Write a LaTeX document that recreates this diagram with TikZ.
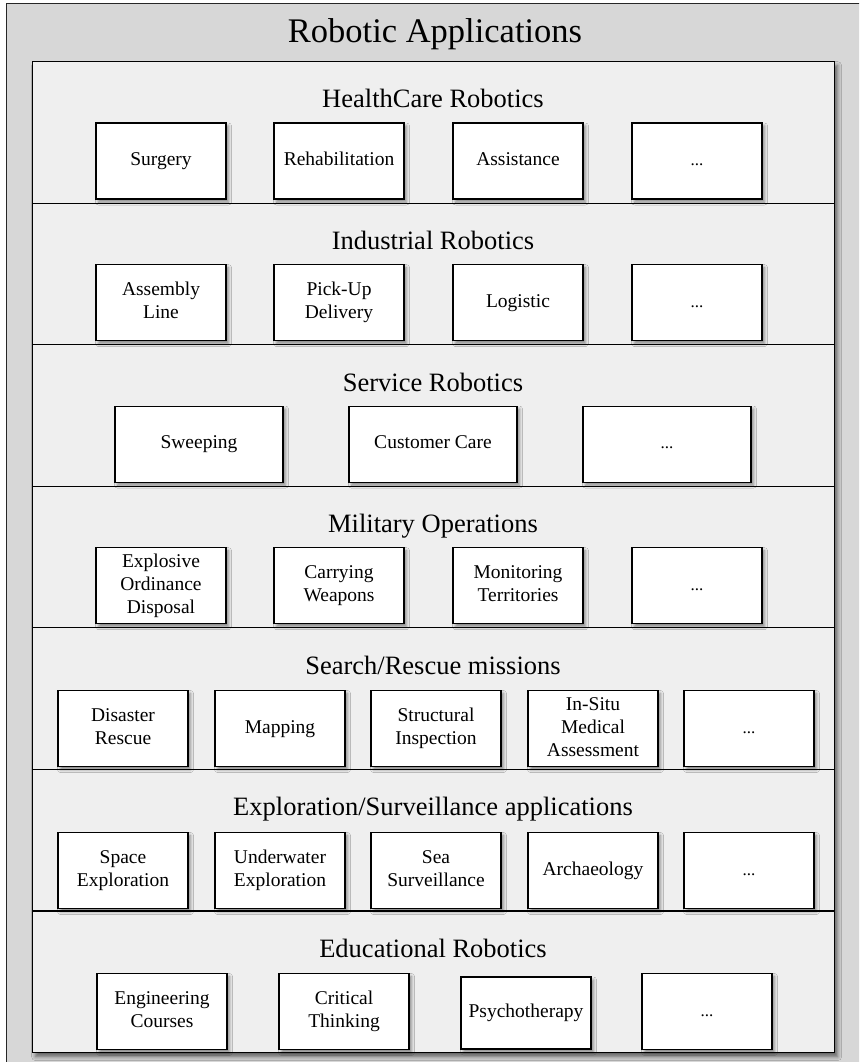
\documentclass[tikz,border=0pt]{standalone}
\usepackage{fontspec}
\setmainfont{Liberation Serif}
\usetikzlibrary{shadows.blur}
\definecolor{outergray}{RGB}{215,215,215}
\definecolor{panelgray}{RGB}{239,239,239}
\newcommand{\st}{\rule[-4.5pt]{0pt}{18pt}}
\tikzset{
  softshadow/.style={blur shadow={shadow xshift=2.5pt, shadow yshift=-3pt, shadow blur radius=3pt, shadow blur steps=6, shadow opacity=45}},
  itembox/.style={draw=black, line width=1.1pt, fill=white, minimum width=130pt, minimum height=76pt,
    inner sep=1pt, align=center, font=\fontsize{19.5}{23}\selectfont, softshadow},
  widebox/.style={itembox, minimum width=168pt},
  dotsbox/.style={itembox, font=\fontsize{17}{23}\selectfont},
  section/.style={draw=black, line width=1.2pt, fill=panelgray, minimum width=802pt,
    minimum height=141.57pt, inner sep=0pt, anchor=north west},
  sectitle/.style={anchor=base, font=\fontsize{26.5}{30}\selectfont, inner sep=0pt},
}
\newcommand{\dotstext}{\st...}
\begin{document}
\begin{tikzpicture}[x=1pt, y=-1pt]
\useasboundingbox (0,0) rectangle (859,1062);
\clip (0,0) rectangle (859,1062);
% outer frame
\node[draw=black!85, line width=1.2pt, fill=outergray, minimum width=870pt, minimum height=1075pt,
  inner sep=0pt, anchor=north west] (outer) at (6,3) {};
\node[anchor=base, font=\fontsize{34.5}{40}\selectfont, inner sep=0pt] (title) at (435,43) {Robotic Applications};
% panel with shadow
\node[draw=black, line width=1.2pt, fill=panelgray, minimum width=802pt, minimum height=991pt,
  inner sep=0pt, anchor=north west, blur shadow={shadow xshift=3pt, shadow yshift=-4pt, shadow blur radius=4pt, shadow blur steps=6, shadow opacity=55}] (panel) at (32,61) {};
% sections
\node[section] (s1) at (32,61) {};
\node[section] (s2) at (32,202.57) {};
\node[section] (s3) at (32,344.14) {};
\node[section] (s4) at (32,485.71) {};
\node[section] (s5) at (32,627.29) {};
\node[section] (s6) at (32,768.86) {};
\node[section] (s7) at (32,910.43) {};
% section titles
\node[sectitle] (t1) at (433,108) {HealthCare Robotics};
\node[sectitle] (t2) at (433,249.6) {Industrial Robotics};
\node[sectitle] (t3) at (433,391.1) {Service Robotics};
\node[sectitle] (t4) at (433,532.7) {Military Operations};
\node[sectitle] (t5) at (433,674.3) {Search/Rescue missions};
\node[sectitle] (t6) at (433,815.9) {Exploration/Surveillance applications};
\node[sectitle] (t7) at (433,957.4) {Educational Robotics};
% HealthCare
\node[itembox] (h1) at (161,161) {\st Surgery};
\node[itembox] (h2) at (339,161) {\st Rehabilitation};
\node[itembox] (h3) at (518,161) {\st Assistance};
\node[dotsbox] (h4) at (697,161) {\dotstext};
% Industrial
\node[itembox] (i1) at (161,302.6) {\st Assembly\\\st Line};
\node[itembox] (i2) at (339,302.6) {\st Pick-Up\\\st Delivery};
\node[itembox] (i3) at (518,302.6) {\st Logistic};
\node[dotsbox] (i4) at (697,302.6) {\dotstext};
% Service
\node[widebox] (v1) at (199,444.1) {\st Sweeping};
\node[widebox] (v2) at (433,444.1) {\st Customer Care};
\node[dotsbox, minimum width=168pt] (v3) at (667,444.1) {\dotstext};
% Military
\node[itembox] (m1) at (161,585.7) {\st Explosive\\\st Ordinance\\\st Disposal};
\node[itembox] (m2) at (339,585.7) {\st Carrying\\\st Weapons};
\node[itembox] (m3) at (518,585.7) {\st Monitoring\\\st Territories};
\node[dotsbox] (m4) at (697,585.7) {\dotstext};
% Search/Rescue
\node[itembox] (r1) at (123,728.5) {\st Disaster\\\st Rescue};
\node[itembox] (r2) at (280,728.5) {\st Mapping};
\node[itembox] (r3) at (436,728.5) {\st Structural\\\st Inspection};
\node[itembox] (r4) at (593,728.5) {\st In-Situ\\\st Medical\\\st Assessment};
\node[dotsbox] (r5) at (749,728.5) {\dotstext};
% Exploration
\node[itembox] (e1) at (123,870.5) {\st Space\\\st Exploration};
\node[itembox] (e2) at (280,870.5) {\st Underwater\\\st Exploration};
\node[itembox] (e3) at (436,870.5) {\st Sea\\\st Surveillance};
\node[itembox] (e4) at (593,870.5) {\st Archaeology};
\node[dotsbox] (e5) at (749,870.5) {\dotstext};
% Educational
\node[itembox] (d1) at (162,1011.5) {\st Engineering\\\st Courses};
\node[itembox] (d2) at (344,1011.5) {\st Critical\\\st Thinking};
\node[itembox, minimum height=72pt] (d3) at (526,1013) {\st Psychotherapy};
\node[dotsbox] (d4) at (707,1011.5) {\dotstext};
\end{tikzpicture}
\end{document}
